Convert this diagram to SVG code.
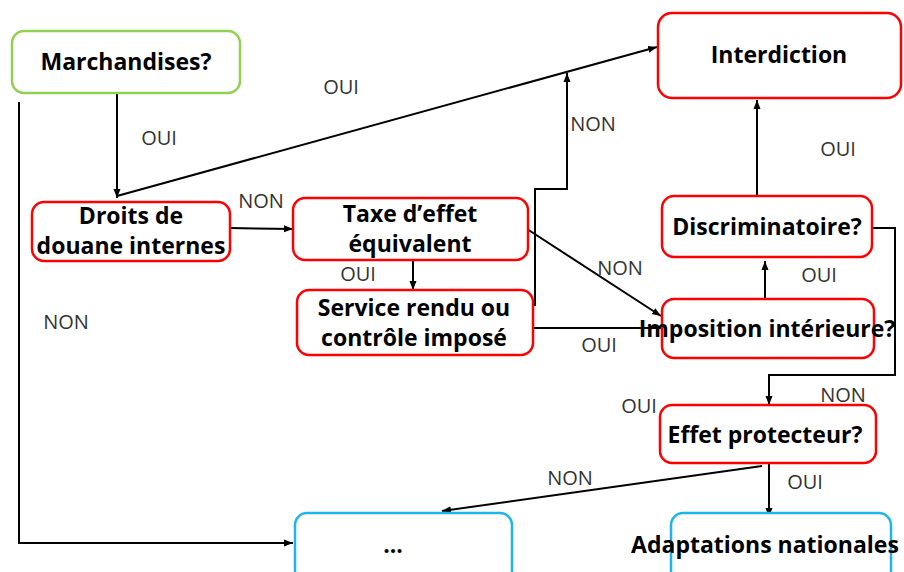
<svg xmlns="http://www.w3.org/2000/svg" width="904" height="572" viewBox="0 0 904 572">
<defs>
<marker id="ah" markerUnits="userSpaceOnUse" markerWidth="10" markerHeight="8" refX="9" refY="4" orient="auto">
<path d="M0,0.5 L9,4 L0,7.5 Z" fill="#000"/>
</marker>
<style>
.box{fill:#fff;stroke-width:2.5}
.red{stroke:#ff0000}
.green{stroke:#92d050}
.blue{stroke:#1eb4ec}
.t{font-family:"Open Sans","Liberation Sans",sans-serif;font-weight:bold;font-size:23px;fill:#000;text-anchor:middle}
.l{font-family:"Open Sans","Liberation Sans",sans-serif;font-size:20px;fill:#333;text-anchor:middle}
.c{fill:none;stroke:#000;stroke-width:2}
</style>
</defs>
<rect width="904" height="572" fill="#fff"/>
<g id="connectors">
<path class="c" d="M117,93 V198" marker-end="url(#ah)"/>
<path class="c" d="M19,102 V543 H293" marker-end="url(#ah)"/>
<path class="c" d="M117,196 L657,47" marker-end="url(#ah)"/>
<path class="c" d="M230,228 L293,229" marker-end="url(#ah)"/>
<path class="c" d="M413,260 V290" marker-end="url(#ah)"/>
<path class="c" d="M533,305 H535 V189 H567 V73" marker-end="url(#ah)"/>
<path class="c" d="M527,229 L661,316" marker-end="url(#ah)"/>
<path class="c" d="M533,328 H662"/>
<path class="c" d="M765,299 V261" marker-end="url(#ah)"/>
<path class="c" d="M757,196 V100" marker-end="url(#ah)"/>
<path class="c" d="M872,228 H895 V375 H769 V405" marker-end="url(#ah)"/>
<path class="c" d="M762,466 L442,511" marker-end="url(#ah)"/>
<path class="c" d="M769,463 V517" marker-end="url(#ah)"/>
</g>
<g id="labels">
<text class="l" x="341" y="94">OUI</text>
<text class="l" x="159" y="145">OUI</text>
<text class="l" x="261" y="208">NON</text>
<text class="l" x="66" y="329">NON</text>
<text class="l" x="358" y="281">OUI</text>
<text class="l" x="593" y="131">NON</text>
<text class="l" x="838" y="156">OUI</text>
<text class="l" x="620" y="275">NON</text>
<text class="l" x="819" y="282">OUI</text>
<text class="l" x="599" y="352">OUI</text>
<text class="l" x="843" y="402">NON</text>
<text class="l" x="639" y="413">OUI</text>
<text class="l" x="570" y="485">NON</text>
<text class="l" x="805" y="489">OUI</text>
</g>
<g id="n-marchandises">
<rect class="box green" x="12" y="31" width="228" height="62" rx="12"/>
<text class="t" x="126" y="70">Marchandises?</text>
</g>
<g id="n-droits">
<rect class="box red" x="32" y="202" width="198" height="59" rx="12"/>
<text class="t" x="131" y="224">Droits de</text>
<text class="t" x="131" y="254">douane internes</text>
</g>
<g id="n-taxe">
<rect class="box red" x="293" y="198" width="235" height="62" rx="12"/>
<text class="t" x="410" y="222">Taxe d’effet</text>
<text class="t" x="410" y="252">équivalent</text>
</g>
<g id="n-service">
<rect class="box red" x="297" y="290" width="236" height="65" rx="12"/>
<text class="t" x="414" y="316">Service rendu ou</text>
<text class="t" x="414" y="346">contrôle imposé</text>
</g>
<g id="n-interdiction">
<rect class="box red" x="658" y="13" width="243" height="85" rx="14"/>
<text class="t" x="779" y="63">Interdiction</text>
</g>
<g id="n-discriminatoire">
<rect class="box red" x="662" y="196" width="210" height="61" rx="12"/>
<text class="t" x="767" y="235">Discriminatoire?</text>
</g>
<g id="n-imposition">
<rect class="box red" x="662" y="299" width="212" height="59" rx="12"/>
<text class="t" x="767" y="337">Imposition intérieure?</text>
</g>
<g id="n-effet">
<rect class="box red" x="660" y="405" width="216" height="58" rx="12"/>
<text class="t" x="765" y="443">Effet protecteur?</text>
</g>
<g id="n-dots">
<rect class="box blue" x="295" y="513" width="217" height="70" rx="12"/>
<text class="t" x="393" y="553">...</text>
</g>
<g id="n-adaptations">
<rect class="box blue" x="671" y="513" width="220" height="70" rx="12"/>
<text class="t" x="765" y="553">Adaptations nationales</text>
</g>
</svg>
